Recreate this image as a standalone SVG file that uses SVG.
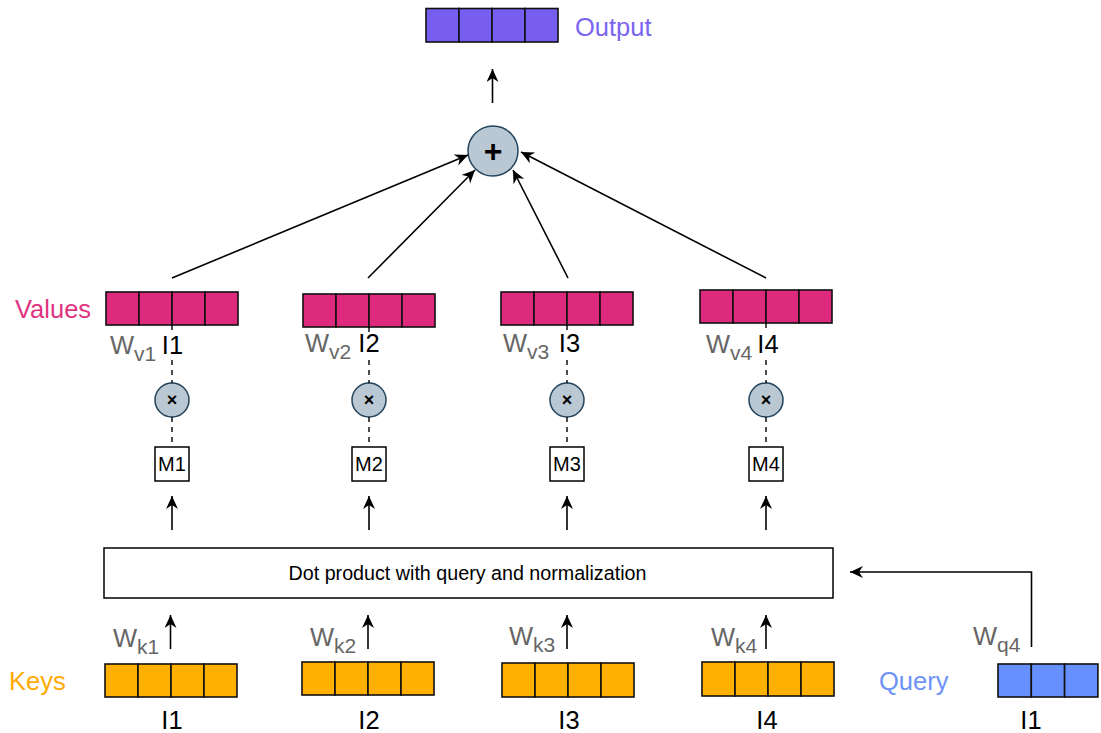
<svg xmlns="http://www.w3.org/2000/svg" width="1101" height="733" viewBox="0 0 1101 733">
<style>
text{font-family:"Liberation Sans",Arial,Helvetica,sans-serif}
.cell{stroke:#111;stroke-width:1.6}
.val{fill:#de2a7c}
.key{fill:#ffb000}
.qry{fill:#6690ff}
.out{fill:#775ef0}
.lbl{font-size:25.5px;fill:#000}
.w{font-size:25.5px;fill:#666}
.sub{font-size:21px}
.edge{fill:none;stroke:#000;stroke-width:1.6}
.dash{fill:none;stroke:#000;stroke-width:1.4;stroke-dasharray:5 5}
.op{fill:#bac8d3;stroke:#23445d;stroke-width:1.5}
.mbox{fill:#fff;stroke:#000;stroke-width:1.5}
.mt{font-size:20px;text-anchor:middle}
.x{font-size:18px;font-weight:bold;text-anchor:middle}
</style>
<defs>
<marker id="arr" markerUnits="userSpaceOnUse" markerWidth="16" markerHeight="14" refX="13" refY="6" orient="auto">
<path d="M0,0 L13,6 L0,12 L4,6 Z" fill="#000"/>
</marker>
</defs>

<g id="output">
<rect class="cell out" x="426" y="8.5" width="33" height="33.5"/>
<rect class="cell out" x="459" y="8.5" width="33" height="33.5"/>
<rect class="cell out" x="492" y="8.5" width="33" height="33.5"/>
<rect class="cell out" x="525" y="8.5" width="33" height="33.5"/>
<text x="575" y="36" font-size="25.5" fill="#7b65ef">Output</text>
</g>

<g id="sum">
<circle class="op" cx="493" cy="151" r="25"/>
<text x="493" y="162" font-size="32" font-weight="bold" text-anchor="middle" fill="#000">+</text>
</g>

<g id="values-label"><text x="15" y="318" font-size="25.5" fill="#e0347f">Values</text></g>

<g id="value1">
<rect class="cell val" x="106" y="292" width="33" height="33"/>
<rect class="cell val" x="139" y="292" width="33" height="33"/>
<rect class="cell val" x="172" y="292" width="33" height="33"/>
<rect class="cell val" x="205" y="292" width="33" height="33"/>
<text class="w" x="110" y="354">W<tspan class="sub" dy="7">v1</tspan></text>
<text class="lbl" x="172.5" y="354" text-anchor="middle">I1</text>
</g>
<g id="value2">
<rect class="cell val" x="303" y="294" width="33" height="33"/>
<rect class="cell val" x="336" y="294" width="33" height="33"/>
<rect class="cell val" x="369" y="294" width="33" height="33"/>
<rect class="cell val" x="402" y="294" width="33" height="33"/>
<text class="w" x="305" y="352">W<tspan class="sub" dy="7">v2</tspan></text>
<text class="lbl" x="369" y="352" text-anchor="middle">I2</text>
</g>
<g id="value3">
<rect class="cell val" x="501" y="292" width="33" height="33"/>
<rect class="cell val" x="534" y="292" width="33" height="33"/>
<rect class="cell val" x="567" y="292" width="33" height="33"/>
<rect class="cell val" x="600" y="292" width="33" height="33"/>
<text class="w" x="503" y="352">W<tspan class="sub" dy="7">v3</tspan></text>
<text class="lbl" x="569.5" y="352" text-anchor="middle">I3</text>
</g>
<g id="value4">
<rect class="cell val" x="700" y="290" width="33" height="33"/>
<rect class="cell val" x="733" y="290" width="33" height="33"/>
<rect class="cell val" x="766" y="290" width="33" height="33"/>
<rect class="cell val" x="799" y="290" width="33" height="33"/>
<text class="w" x="706" y="353">W<tspan class="sub" dy="7">v4</tspan></text>
<text class="lbl" x="768" y="353" text-anchor="middle">I4</text>
</g>

<g id="mul1"><circle class="op" cx="172" cy="400" r="17"/><text class="x" x="172" y="406">×</text></g>
<g id="mul2"><circle class="op" cx="369" cy="400" r="17"/><text class="x" x="369" y="406">×</text></g>
<g id="mul3"><circle class="op" cx="567" cy="400" r="17"/><text class="x" x="567" y="406">×</text></g>
<g id="mul4"><circle class="op" cx="766" cy="400" r="17"/><text class="x" x="766" y="406">×</text></g>

<g id="m1"><rect class="mbox" x="155" y="447" width="34" height="34"/><text class="mt" x="172" y="471">M1</text></g>
<g id="m2"><rect class="mbox" x="352" y="447" width="34" height="34"/><text class="mt" x="369" y="471">M2</text></g>
<g id="m3"><rect class="mbox" x="550" y="447" width="34" height="34"/><text class="mt" x="567" y="471">M3</text></g>
<g id="m4"><rect class="mbox" x="749" y="447" width="34" height="34"/><text class="mt" x="766" y="471">M4</text></g>

<g id="dotproduct">
<rect x="104" y="548" width="729" height="50" fill="#fff" stroke="#000" stroke-width="1.5"/>
<text x="467.5" y="580" font-size="19.7" text-anchor="middle">Dot product with query and normalization</text>
</g>

<g id="keys-label"><text x="9" y="690" font-size="25.5" fill="#ffaa00">Keys</text></g>

<g id="key1">
<rect class="cell key" x="105" y="664" width="33" height="33"/>
<rect class="cell key" x="138" y="664" width="33" height="33"/>
<rect class="cell key" x="171" y="664" width="33" height="33"/>
<rect class="cell key" x="204" y="664" width="33" height="33"/>
<text class="w" x="113" y="647">W<tspan class="sub" dy="7">k1</tspan></text>
<text class="lbl" x="172" y="729" text-anchor="middle">I1</text>
</g>
<g id="key2">
<rect class="cell key" x="302" y="662" width="33" height="33"/>
<rect class="cell key" x="335" y="662" width="33" height="33"/>
<rect class="cell key" x="368" y="662" width="33" height="33"/>
<rect class="cell key" x="401" y="662" width="33" height="33"/>
<text class="w" x="310" y="646">W<tspan class="sub" dy="7">k2</tspan></text>
<text class="lbl" x="369" y="729" text-anchor="middle">I2</text>
</g>
<g id="key3">
<rect class="cell key" x="502" y="663" width="33" height="34"/>
<rect class="cell key" x="535" y="663" width="33" height="34"/>
<rect class="cell key" x="568" y="663" width="33" height="34"/>
<rect class="cell key" x="601" y="663" width="33" height="34"/>
<text class="w" x="509" y="645">W<tspan class="sub" dy="7">k3</tspan></text>
<text class="lbl" x="569" y="729" text-anchor="middle">I3</text>
</g>
<g id="key4">
<rect class="cell key" x="702" y="662" width="33" height="34"/>
<rect class="cell key" x="735" y="662" width="33" height="34"/>
<rect class="cell key" x="768" y="662" width="33" height="34"/>
<rect class="cell key" x="801" y="662" width="33" height="34"/>
<text class="w" x="711" y="646">W<tspan class="sub" dy="7">k4</tspan></text>
<text class="lbl" x="767" y="729" text-anchor="middle">I4</text>
</g>

<g id="query-label"><text x="879" y="690" font-size="25.5" fill="#6e93f6">Query</text></g>
<g id="query">
<rect class="cell qry" x="998" y="664" width="33.3" height="33"/>
<rect class="cell qry" x="1031.3" y="664" width="33.3" height="33"/>
<rect class="cell qry" x="1064.6" y="664" width="33.3" height="33"/>
<text class="w" x="973" y="645">W<tspan class="sub" dy="7">q4</tspan></text>
<text class="lbl" x="1031" y="729" text-anchor="middle">I1</text>
</g>

<g id="connectors">
<line class="edge" x1="492.5" y1="103" x2="492.5" y2="69" marker-end="url(#arr)"/>
<line class="edge" x1="172" y1="278" x2="468" y2="155" marker-end="url(#arr)"/>
<line class="edge" x1="368" y1="278" x2="475" y2="170" marker-end="url(#arr)"/>
<line class="edge" x1="568" y1="278" x2="513" y2="170" marker-end="url(#arr)"/>
<line class="edge" x1="766" y1="278" x2="521" y2="152" marker-end="url(#arr)"/>

<path class="dash" d="M172,325 V330 M172,360 V383 M172,417 V447"/>
<path class="dash" d="M369,327 V332 M369,360 V383 M369,417 V447"/>
<path class="dash" d="M567,325 V330 M567,360 V383 M567,417 V447"/>
<path class="dash" d="M766,323 V328 M766,360 V383 M766,417 V447"/>

<line class="edge" x1="172" y1="530" x2="172" y2="496" marker-end="url(#arr)"/>
<line class="edge" x1="369" y1="530" x2="369" y2="496" marker-end="url(#arr)"/>
<line class="edge" x1="567" y1="530" x2="567" y2="496" marker-end="url(#arr)"/>
<line class="edge" x1="766" y1="530" x2="766" y2="496" marker-end="url(#arr)"/>

<line class="edge" x1="170.5" y1="649" x2="170.5" y2="615" marker-end="url(#arr)"/>
<line class="edge" x1="368" y1="649" x2="368" y2="615" marker-end="url(#arr)"/>
<line class="edge" x1="567" y1="649" x2="567" y2="615" marker-end="url(#arr)"/>
<line class="edge" x1="766" y1="649" x2="766" y2="615" marker-end="url(#arr)"/>

<path class="edge" d="M1031.5,647 V572 H850" marker-end="url(#arr)"/>
</g>
</svg>
